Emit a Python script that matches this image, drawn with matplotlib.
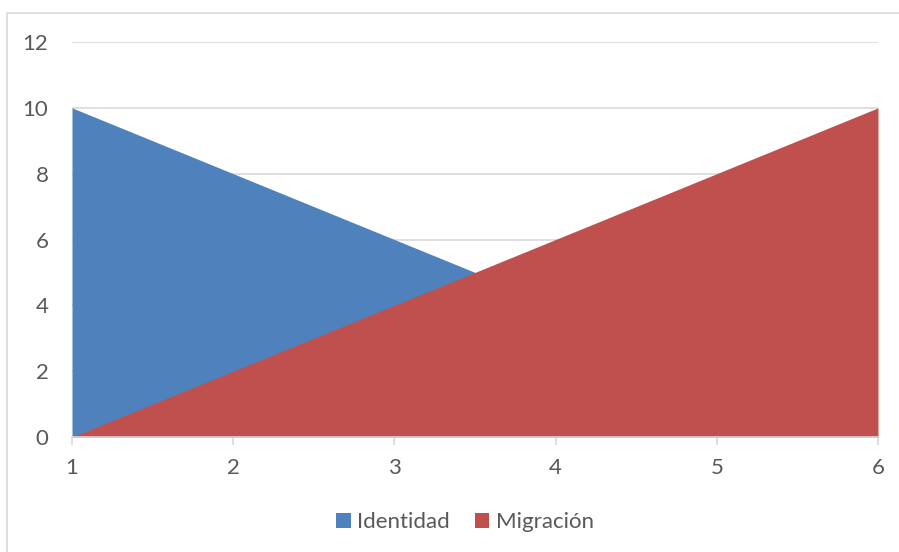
import matplotlib.pyplot as plt
from matplotlib.patches import Rectangle

x = [1, 2, 3, 4, 5, 6]
identidad = [10, 8, 6, 4, 2, 0]
migracion = [0, 2, 4, 6, 8, 10]
yticks = [0, 2, 4, 6, 8, 10, 12]

plt.rcParams['font.family'] = ['Lato', 'DejaVu Sans']

fig = plt.figure(figsize=(8.99, 5.52), dpi=100)
ax = fig.add_axes([72/899, 1-437/552, (878-72)/899, (437-42)/552])

# borde del grafico
fig.patches.append(Rectangle((7/899, -0.1), 1.2, 1-13/552+0.1, transform=fig.transFigure,
                             fill=False, edgecolor='#d9d9d9', lw=1.2))

ax.fill_between(x, identidad, 0, color='#4F81BD', lw=0, label='Identidad', zorder=2)
ax.fill_between(x, migracion, 0, color='#C0504D', lw=0, label='Migración', zorder=3)

ax.set_xlim(1, 6)
ax.set_ylim(0, 12)
ax.set_yticks(yticks)
ax.set_xticks(x)
ax.grid(axis='y', color='#d9d9d9', lw=1.2, zorder=0)
ax.set_axisbelow(True)
for s in ['top', 'right', 'left']:
    ax.spines[s].set_visible(False)
ax.spines['bottom'].set_color('#d9d9d9')
ax.spines['bottom'].set_linewidth(1.2)
ax.spines['bottom'].set_zorder(4)
ax.tick_params(axis='y', length=0, pad=17, labelsize=16, labelcolor='#595959')
ax.tick_params(axis='x', length=6, width=1.2, color='#d9d9d9', pad=9, labelsize=16, labelcolor='#595959')

fig.legend(loc='center', bbox_to_anchor=(465/899, 1-522/552), ncol=2, frameon=False,
           fontsize=16, labelcolor='#595959', handlelength=0.65, handleheight=0.65,
           handletextpad=0.3, columnspacing=1.1)

fig.savefig('out.png', dpi=100)
